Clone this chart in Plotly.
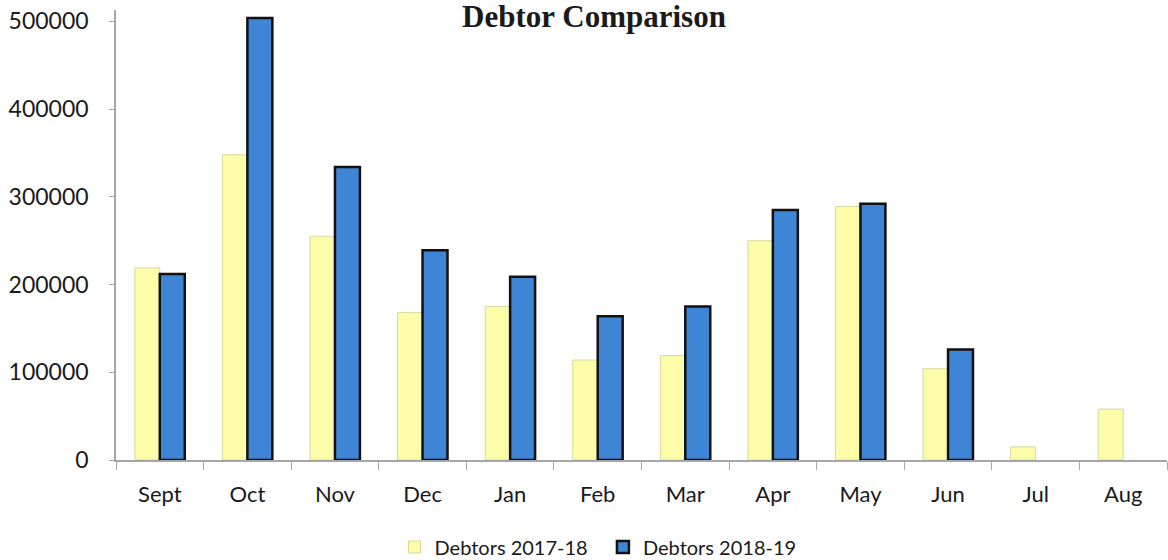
import plotly.graph_objects as go

months = ["Sept", "Oct", "Nov", "Dec", "Jan", "Feb", "Mar", "Apr", "May", "Jun", "Jul", "Aug"]
debtors_2017_18 = [219000, 348000, 255000, 168000, 175000, 114000, 119000, 250000, 289000, 104000, 15000, 58000]
debtors_2018_19 = [212000, 504000, 334000, 239000, 209000, 164000, 175000, 285000, 292000, 126000, None, None]
y_ticks = [0, 100000, 200000, 300000, 400000, 500000]

fig = go.Figure()
fig.add_trace(go.Bar(
    x=months, y=debtors_2017_18, name="Debtors 2017-18  ",
    marker=dict(color="#FDFCA8", line=dict(color="#D9D8A0", width=1)),
))
fig.add_trace(go.Bar(
    x=months, y=debtors_2018_19, name="Debtors 2018-19",
    marker=dict(color="#3F85D6", line=dict(color="#111111", width=2.5)),
))

fig.update_layout(
    width=1168, height=560,
    margin=dict(l=116, r=1, t=10, b=100, autoexpand=False),
    paper_bgcolor="white", plot_bgcolor="white",
    barmode="group", bargap=0.43, bargroupgap=0,
    font=dict(family="Lato, 'Open Sans', sans-serif", color="#1a1a1a"),
    title=dict(
        text="<b>Debtor Comparison</b>",
        font=dict(family="'Liberation Serif', 'Times New Roman', serif", size=31, color="#1a1a1a"),
        x=594 / 1168, xanchor="center", y=0.972, yanchor="middle",
    ),
    legend=dict(
        orientation="h", xref="container", x=598 / 1168, xanchor="center",
        yref="container", y=1 - 547 / 560, yanchor="middle",
        font=dict(size=20, color="#1a1a1a"), itemwidth=30,
        traceorder="normal",
    ),
    xaxis=dict(
        showline=True, linecolor="#A6A6A6", linewidth=1.5,
        ticks="outside", tickson="boundaries", ticklen=8, tickcolor="#A6A6A6",
        tickfont=dict(size=22), ticklabelstandoff=14,
        showgrid=False,
    ),
    yaxis=dict(
        range=[0, 513000],
        tickvals=y_ticks, ticktext=[str(v) for v in y_ticks],
        showline=True, linecolor="#A6A6A6", linewidth=1.5,
        ticks="outside", ticklen=5, tickcolor="#A6A6A6",
        tickfont=dict(size=23), ticklabelstandoff=16,
        showgrid=False, zeroline=False,
    ),
)

fig.write_html("out.html")
